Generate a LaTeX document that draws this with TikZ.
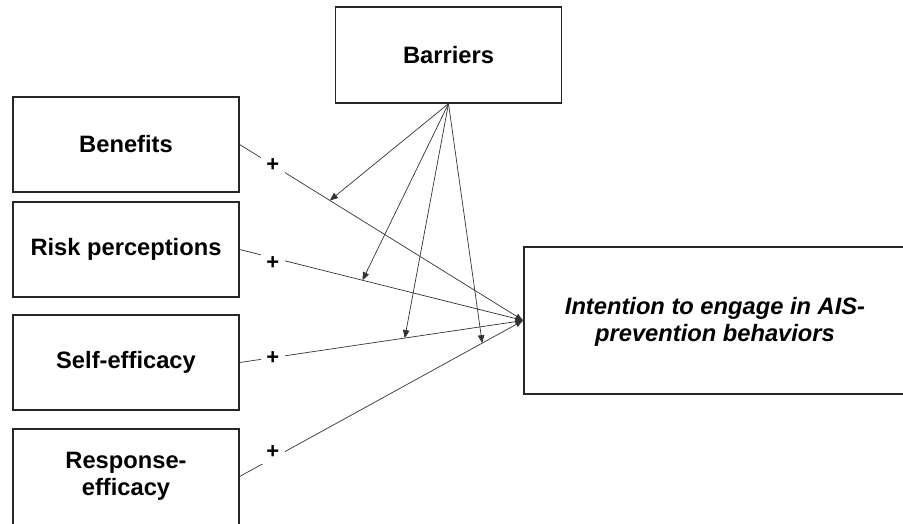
\documentclass[tikz,border=0pt]{standalone}
\usepackage{fontspec}
\setmainfont{Liberation Sans}
\usetikzlibrary{arrows.meta}
\begin{document}
\begin{tikzpicture}[x=1pt,y=-1pt,
  box/.style={draw=black!85, line width=1.3pt, minimum width=226pt, minimum height=95pt,
    inner sep=0pt, align=center, font=\fontsize{23.7}{27}\selectfont\bfseries},
  conn/.style={draw=black!80, line width=0.7pt},
  plus/.style={fill=white, minimum size=24pt, inner sep=0pt, font=\fontsize{22}{24}\selectfont\bfseries},
  conv/.style={conn, -{Latex[length=8pt,width=6pt]}},
  mod/.style={conn, -{Triangle[length=8pt,width=6.5pt]}}
]
\useasboundingbox (0,0) rectangle (903,523);

\node[box, minimum height=96pt] (bar) at (448.5,55) {Barriers};
\node[box] (ben) at (126,144.5) {Benefits};
\node[box] (risk) at (126,249.5) {Risk perceptions};
\node[box] (self) at (126,362.5) {Self-efficacy};
\node[box, minimum height=100pt] (resp) at (126,479) {};
\node[align=center, font=\fontsize{23.7}{27}\selectfont\bfseries] (resptext) at (126,476.5) {Response-\\efficacy};
\node[box, minimum width=410pt, minimum height=147pt] (int) at (729,320.5) {};
\node[align=center, font=\fontsize{23.7}{27}\selectfont\bfseries\itshape] (inttext) at (715,322)
  {Intention to engage in AIS-\\prevention behaviors};
\coordinate (conv) at (int.west |- 0,320.5);
\coordinate (respout) at (resp.east |- 0,476.5);

\draw[conv] (ben.east) -- node[plus, pos=0.117] (p1) {+} coordinate[pos=0.318] (t1) (conv);
\draw[conv] (risk.east) -- node[plus, pos=0.117, yshift=-4.8pt] (p2) {+} coordinate[pos=0.433] (t2) (conv);
\draw[conv] (self.east) -- node[plus, pos=0.117] (p3) {+} coordinate[pos=0.582] (t3) (conv);
\draw[conv] (respout) -- node[plus, pos=0.117, yshift=6.3pt] (p4) {+} coordinate[pos=0.855] (t4) (conv);

\draw[mod] (bar.south) -- (t1);
\draw[mod] (bar.south) -- (t2);
\draw[mod] (bar.south) -- (t3);
\draw[mod] (bar.south) -- (t4);
\end{tikzpicture}
\end{document}
